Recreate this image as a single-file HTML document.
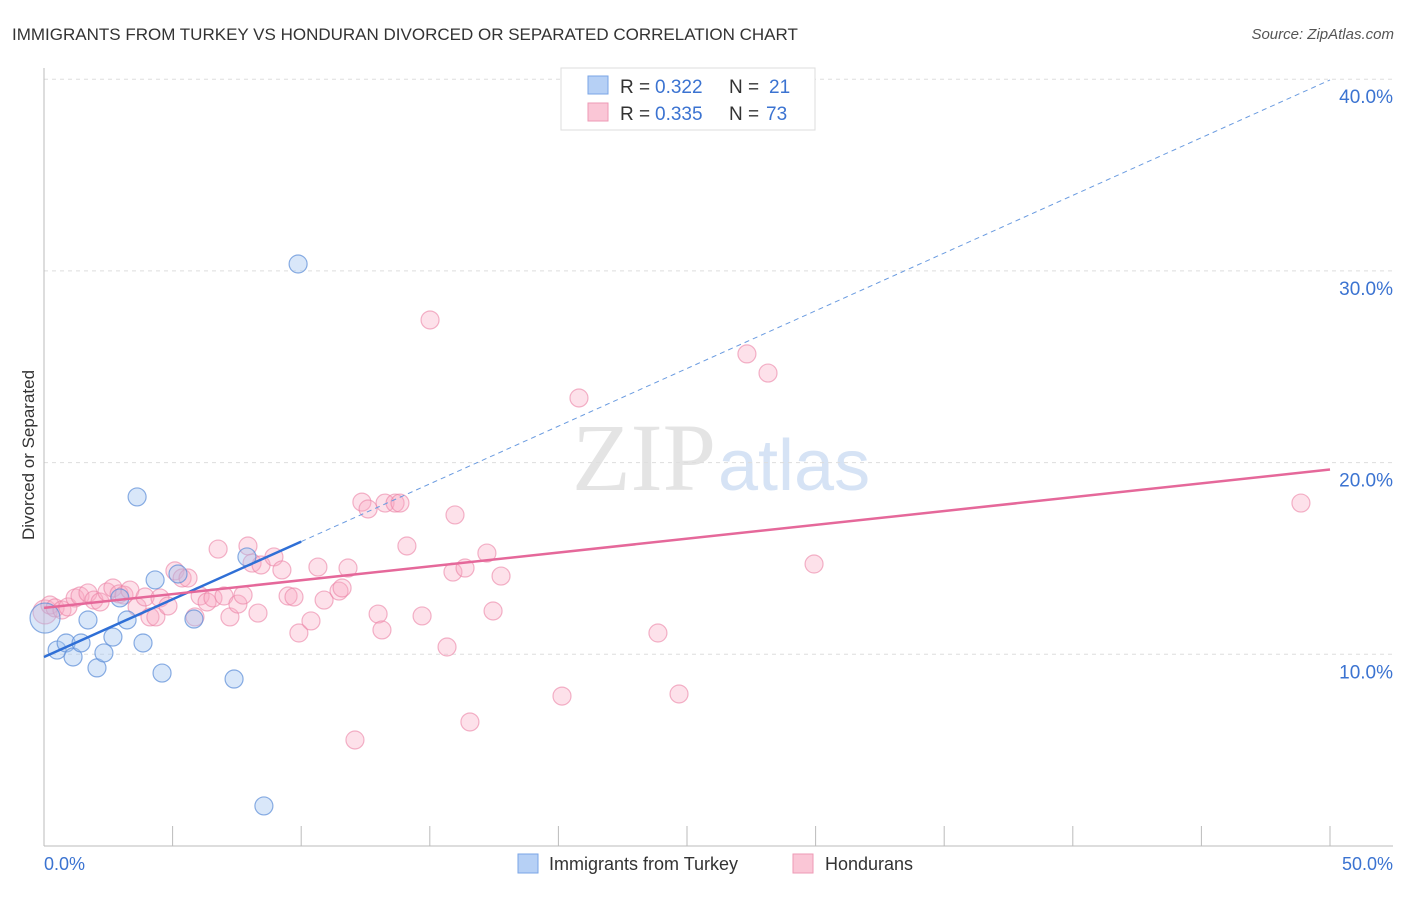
<!DOCTYPE html>
<html><head><meta charset="utf-8"><style>
body{margin:0;background:#fff;font-family:"Liberation Sans",sans-serif}
</style></head><body>
<svg width="1406" height="892" viewBox="0 0 1406 892" xmlns="http://www.w3.org/2000/svg">
<text x="12" y="40" font-size="17" fill="#333">IMMIGRANTS FROM TURKEY VS HONDURAN DIVORCED OR SEPARATED CORRELATION CHART</text>
<text x="1394" y="39" font-size="15" fill="#555" text-anchor="end" font-style="italic">Source: ZipAtlas.com</text>
<text x="716" y="490" font-size="96" fill="#e4e4e4" text-anchor="end" font-family="Liberation Serif">ZIP</text>
<text x="718" y="490" font-size="72" fill="#d6e3f5">atlas</text>
<g id="grid"></g><g id="axes"></g><g id="pts"></g><g id="lines"></g>
<text x="34" y="455" font-size="17" fill="#333" text-anchor="middle" transform="rotate(-90 34 455)">Divorced or Separated</text>
<text x="44" y="870" font-size="18" fill="#3b73d1">0.0%</text>
<text x="1393" y="870" font-size="18" fill="#3b73d1" text-anchor="end">50.0%</text>
<g>
<rect x="561" y="68" width="254" height="62" fill="#fff" stroke="#ddd"/>
<rect x="588" y="76" width="20" height="18" fill="#b6d0f5" stroke="#7aa5e6"/>
<rect x="588" y="103" width="20" height="18" fill="#fac6d6" stroke="#ee9ab5"/>
<text x="620" y="93" font-size="19" fill="#333">R =</text>
<text x="655" y="93" font-size="19" fill="#3b73d1">0.322</text>
<text x="729" y="93" font-size="19" fill="#333">N =</text>
<text x="769" y="93" font-size="19" fill="#3b73d1">21</text>
<text x="620" y="120" font-size="19" fill="#333">R =</text>
<text x="655" y="120" font-size="19" fill="#3b73d1">0.335</text>
<text x="729" y="120" font-size="19" fill="#333">N =</text>
<text x="766" y="120" font-size="19" fill="#3b73d1">73</text>
</g>
<g>
<rect x="518" y="854" width="20" height="19" fill="#b6d0f5" stroke="#7aa5e6"/>
<text x="549" y="870" font-size="18" fill="#333">Immigrants from Turkey</text>
<rect x="793" y="854" width="20" height="19" fill="#fac6d6" stroke="#ee9ab5"/>
<text x="825" y="870" font-size="18" fill="#333">Hondurans</text>
</g>
</svg>
<script>
const yTicks=[10,20,30,40];
const yTickLabels=["10.0%","20.0%","30.0%","40.0%"];
const xTicks=[5,10,15,20,25,30,35,40,45,50];
const turkeyX=[0.04,0.51,0.86,1.13,1.44,1.71,2.06,2.33,2.68,2.95,3.23,3.85,4.32,4.59,5.21,5.83,7.39,7.89,8.55,9.88,3.62];
const turkeyY=[11.89,10.22,10.59,9.86,10.59,11.79,9.29,10.07,10.90,12.94,11.79,10.59,13.88,9.02,14.19,11.84,8.71,15.08,2.09,30.36,18.21];
const hondPx=[45,50,55,62,68,75,80,88,94,100,107,113,119,124,130,137,145,150,156,160,168,175,182,188,195,200,207,213,218,224,230,238,243,248,252,258,261,274,282,288,294,299,311,318,324,339,342,348,355,362,368,378,382,385,395,400,407,422,430,447,453,455,465,470,487,493,501,562,579,658,679,747,768,814,1301];
const hondPy=[612,605,608,610,607,598,596,593,600,602,592,588,594,595,590,607,597,617,617,598,606,571,578,578,617,596,602,598,549,596,617,604,595,546,563,613,565,557,570,596,597,633,621,567,600,591,588,568,740,502,509,614,630,503,503,503,546,616,320,647,572,515,568,722,553,611,576,696,398,633,694,354,373,564,503];
const hondX=hondPx.map(p=>+((p-44)/25.72).toFixed(2));
const hondY=hondPy.map(p=>+((846-p)/19.17).toFixed(2));
const turkeyFit=[9.86,39.96];
const hondFit=[12.42,19.64];
const sx=v=>44+v*25.72, sy=v=>846-v*19.17;
const NS="http://www.w3.org/2000/svg";
function mk(tag,attrs,parent){const e=document.createElementNS(NS,tag);for(const k in attrs)e.setAttribute(k,attrs[k]);document.getElementById(parent).appendChild(e);return e;}
yTicks.forEach((t,i)=>{
 const g=mk('line',{x1:44,x2:1393,y1:sy(t),y2:sy(t),stroke:'#ddd','stroke-dasharray':'4,4'},'grid');
 
 
 const tx=mk('text',{x:1393,y:sy(t)+24,'font-size':19,fill:'#3b73d1','text-anchor':'end'},'grid');
 tx.textContent=yTickLabels[i];
 
 
});
let a=mk('line',{x1:44,x2:44,y1:68,y2:846,stroke:'#bbb'},'axes');


a=mk('line',{x1:44,x2:1393,y1:846,y2:846,stroke:'#bbb'},'axes');


xTicks.forEach(t=>{const l=mk('line',{x1:sx(t),x2:sx(t),y1:826,y2:846,stroke:'#bbb'},'axes');
 
 });
hondX.forEach((x,i)=>{const c=mk('circle',{cx:sx(x),cy:sy(hondY[i]),r:i==0?12:9,fill:'rgba(248,170,195,0.35)',stroke:'rgba(235,130,165,0.6)','stroke-width':1.2},'pts');
 
 });
turkeyX.forEach((x,i)=>{const c=mk('circle',{cx:sx(x),cy:sy(turkeyY[i]),r:i==0?15:9,fill:'rgba(160,195,240,0.4)',stroke:'rgba(90,140,215,0.7)','stroke-width':1.2},'pts');
 
 });
const tyAt=x=>turkeyFit[0]+(turkeyFit[1]-turkeyFit[0])*x/50;
let l=mk('line',{x1:sx(0),y1:sy(tyAt(0)),x2:sx(10),y2:sy(tyAt(10)),stroke:'#2f6fd6','stroke-width':2.5},'lines');


l=mk('line',{x1:sx(10),y1:sy(tyAt(10)),x2:sx(50),y2:sy(tyAt(50)),stroke:'#6a9be0','stroke-width':1,'stroke-dasharray':'5,4'},'lines');


l=mk('line',{x1:sx(0),y1:sy(hondFit[0]),x2:sx(50),y2:sy(hondFit[1]),stroke:'#e5689a','stroke-width':2.5},'lines');


</script>
</body></html>
